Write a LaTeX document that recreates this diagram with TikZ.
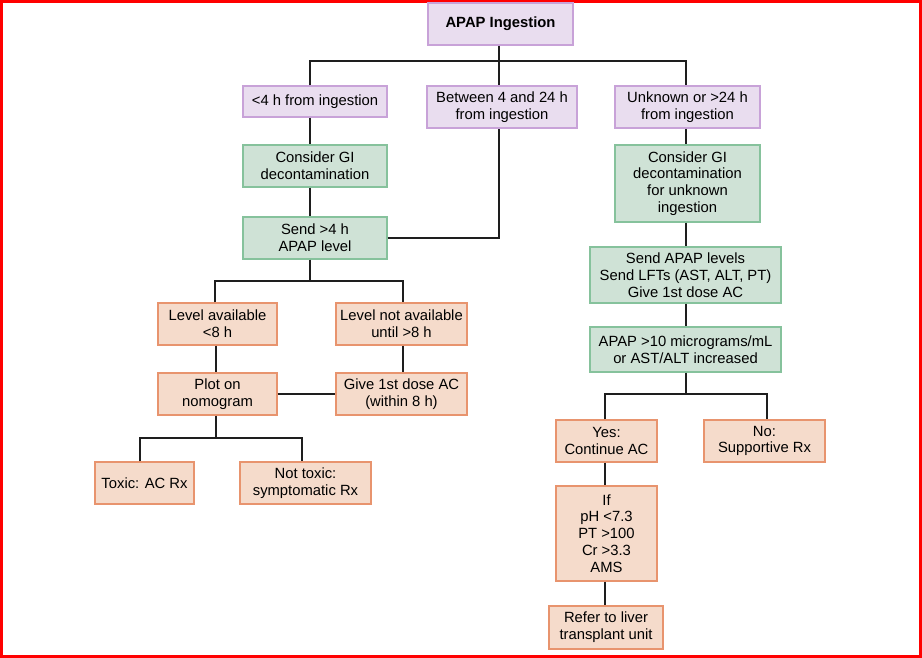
\documentclass[tikz,border=0pt]{standalone}
\usepackage{fontspec}
\setmainfont{Liberation Sans}
\usepackage{tikz}
\usetikzlibrary{calc}
\definecolor{timefill}{HTML}{E9DDEF}
\definecolor{timeline}{HTML}{C8A2D8}
\definecolor{workfill}{HTML}{CFE2D6}
\definecolor{workline}{HTML}{86C29C}
\definecolor{actfill}{HTML}{F5DBCB}
\definecolor{actline}{HTML}{E8946E}
\definecolor{linkgray}{HTML}{1E1E1E}

\begin{document}
\begin{tikzpicture}[x=1pt, y=-1pt,
    box/.style={draw, line width=1.2pt, inner sep=0pt, align=center,
      font=\fontsize{14.8}{16.8}\selectfont},
    timebox/.style={box, fill=timefill, draw=timeline},
    workbox/.style={box, fill=workfill, draw=workline},
    actbox/.style={box, fill=actfill, draw=actline},
    link/.style={draw=linkgray, line width=1.8pt}]
  % Canvas and red frame
  \useasboundingbox (0,0) rectangle (922,658);
  \draw[red, line width=2.6pt] (1.3,1.3) rectangle (920.5,656.7);

  % Start
  \node[timebox, minimum width=145, minimum height=42, font=\fontsize{14.8}{16.8}\selectfont\bfseries]
    (apap) at (500.5,24) {APAP Ingestion};

  % Time since ingestion
  \node[timebox, minimum width=144, minimum height=31] (early) at (315,101.5) {<4 h from ingestion};
  \node[timebox, minimum width=150, minimum height=42] (mid) at (502,107) {Between 4 and 24 h\\from ingestion};
  \node[timebox, minimum width=145, minimum height=42] (late) at (687.5,107) {Unknown or >24 h\\from ingestion};

  % Early branch
  \node[workbox, minimum width=144, minimum height=42] (gidec) at (315,166) {Consider GI\\decontamination};
  \node[workbox, minimum width=144, minimum height=42] (sendlvl) at (315,238) {Send >4 h\\APAP level};
  \node[actbox, minimum width=119, minimum height=42] (avail) at (217.5,324) {Level available\\<8 h};
  \node[actbox, minimum width=131, minimum height=42] (notavail) at (401.5,324) {Level not available\\until >8 h};
  \node[actbox, minimum width=119, minimum height=42] (plot) at (217.5,394) {Plot on\\nomogram};
  \node[actbox, minimum width=131, minimum height=42] (dose) at (401.5,394) {Give 1st dose AC\\(within 8 h)};
  \node[actbox, minimum width=99, minimum height=42] (toxic) at (144.5,483) {Toxic: AC Rx};
  \node[actbox, minimum width=131, minimum height=42] (nontoxic) at (305.5,483) {Not toxic:\\symptomatic Rx};

  % Late branch
  \node[workbox, minimum width=145, minimum height=77] (gidecu) at (687.5,183.5) {Consider GI\\decontamination\\for unknown\\ingestion};
  \node[workbox, minimum width=191, minimum height=56] (sendall) at (685.5,275) {Send APAP levels\\Send LFTs (AST, ALT, PT)\\Give 1st dose AC};
  \node[workbox, minimum width=191, minimum height=45] (high) at (685.5,349.5) {APAP >10 micrograms/mL\\or AST/ALT increased};
  \node[actbox, minimum width=101, minimum height=42] (yes) at (606.5,441) {Yes:\\Continue AC};
  \node[actbox, minimum width=121, minimum height=42] (no) at (764.5,441) {No:\\Supportive Rx};
  \node[actbox, minimum width=101, minimum height=95] (ifcrit) at (606.5,533.5) {If\\pH <7.3\\PT >100\\Cr >3.3\\AMS};
  \node[actbox, minimum width=114, minimum height=43] (refer) at (606,627.5) {Refer to liver\\transplant unit};

  % Bus points
  \coordinate (topbus) at (499,61);
  \coordinate (lvlbus) at (310,281);
  \coordinate (toxbus) at (216,438);
  \coordinate (ynbus) at (686,394);

  % Connectors
  \draw[link] (apap.south -| topbus) -- (topbus) -- (topbus |- mid.north);
  \draw[link] ([xshift=-5]early.north) |- (topbus) -| ([xshift=-1.5]late.north);
  \draw[link] ([xshift=-5]early.south) -- ([xshift=-5]gidec.north);
  \draw[link] ([xshift=-5]gidec.south) -- ([xshift=-5]sendlvl.north);
  \draw[link] (sendlvl.east) -| (topbus |- mid.south);
  \draw[link] ([xshift=-5]sendlvl.south) -- (lvlbus);
  \draw[link] ([xshift=-2.5]avail.north) |- (lvlbus) -| ([xshift=1.5]notavail.north);
  \draw[link] ([xshift=-1.5]avail.south) -- ([xshift=-1.5]plot.north);
  \draw[link] ([xshift=1.5]notavail.south) -- ([xshift=1.5]dose.north);
  \draw[link] (plot.east) -- (dose.west);
  \draw[link] (toxbus |- plot.south) -- (toxbus);
  \draw[link] ([xshift=-4.5]toxic.north) |- (toxbus) -| ([xshift=-3.5]nontoxic.north);
  \draw[link] (ynbus |- late.south) -- (ynbus |- gidecu.north);
  \draw[link] (ynbus |- gidecu.south) -- (ynbus |- sendall.north);
  \draw[link] (ynbus |- sendall.south) -- (ynbus |- high.north);
  \draw[link] (ynbus |- high.south) -- (ynbus);
  \draw[link] ([xshift=-1.5]yes.north) |- (ynbus) -| ([xshift=2.5]no.north);
  \draw[link] ([xshift=-1.5]yes.south) -- ([xshift=-1.5]ifcrit.north);
  \draw[link] ([xshift=-1.5]ifcrit.south) -- ([xshift=-1.5]ifcrit.south |- refer.north);
\end{tikzpicture}
\end{document}
